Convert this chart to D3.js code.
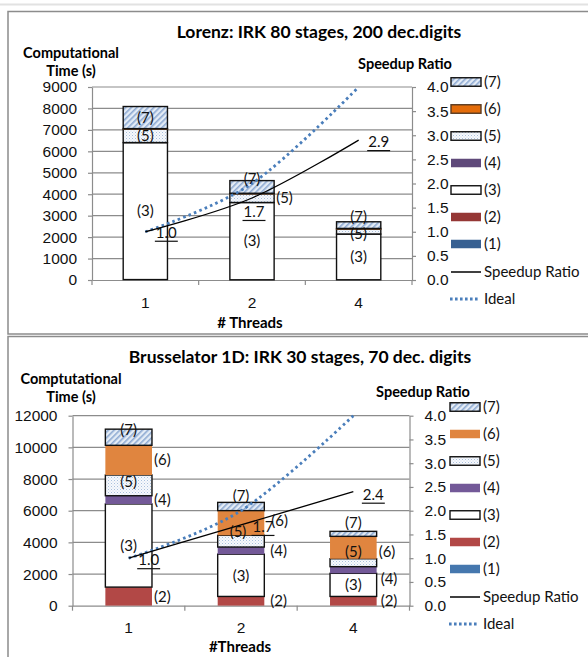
<!DOCTYPE html>
<html>
<head>
<meta charset="utf-8">
<script src="https://cdn.jsdelivr.net/npm/d3@7"></script>
<style>
  body { margin: 0; background: #fff; }
  svg { display: block; font-family: Lato, "Open Sans", sans-serif; }
</style>
</head>
<body>
<svg id="chart" width="588" height="657"></svg>
<script>
// categories
var threads = ["1", "2", "4"];
var segments = ["(1)", "(2)", "(3)", "(4)", "(5)", "(6)", "(7)"];

// Lorenz: computational time (s) per part
var lorenz1 = [10, 5, 5];
var lorenz2 = [10, 5, 5];
var lorenz3 = [6380, 3600, 2130];
var lorenz4 = [10, 5, 5];
var lorenz5 = [620, 400, 220];
var lorenz6 = [30, 30, 40];
var lorenz7 = [1030, 590, 310];
var lorenzSpeedup = [1.0, 1.7, 2.9];

// Brusselator 1D: computational time (s) per part
var bruss1 = [5, 5, 5];
var bruss2 = [1170, 580, 580];
var bruss3 = [5250, 2670, 1460];
var bruss4 = [520, 450, 420];
var bruss5 = [1310, 740, 500];
var bruss6 = [1875, 1560, 1415];
var bruss7 = [1020, 520, 315];
var brussSpeedup = [1.0, 1.7, 2.4];

var idealSpeedup = [1, 2, 4];

// tick labels
var lorenzTimeTicks = [0, 1000, 2000, 3000, 4000, 5000, 6000, 7000, 8000, 9000];
var brussTimeTicks = [0, 2000, 4000, 6000, 8000, 10000, 12000];
var speedupTicks = [0, 0.5, 1, 1.5, 2, 2.5, 3, 3.5, 4];

var FS = 15; // label font size

var svg = d3.select("#chart");
var defs = svg.append("defs");

// patterns for (7) and (5)
var hatch = defs.append("pattern").attr("id", "hatch")
    .attr("patternUnits", "userSpaceOnUse").attr("width", 4).attr("height", 4)
    .attr("patternTransform", "rotate(45)");
hatch.append("rect").attr("width", 4).attr("height", 4).attr("fill", "#e4ecf6");
hatch.append("rect").attr("width", 1.6).attr("height", 4).attr("fill", "#8eaad2");

var dots = defs.append("pattern").attr("id", "dots")
    .attr("patternUnits", "userSpaceOnUse").attr("width", 3).attr("height", 3);
dots.append("rect").attr("width", 3).attr("height", 3).attr("fill", "#f7f9fc");
dots.append("rect").attr("width", 1).attr("height", 1).attr("fill", "#a9c0de");
dots.append("rect").attr("x", 1.5).attr("y", 1.5).attr("width", 1).attr("height", 1).attr("fill", "#c9d8ec");

// top light strip and panel frames
svg.append("line").attr("x1", 0).attr("x2", 588).attr("y1", 4.5).attr("y2", 4.5)
    .attr("stroke", "#e2e2e2").attr("stroke-width", 2);
svg.append("rect").attr("x", 8).attr("y", 11.5).attr("width", 600).attr("height", 322.5)
    .attr("fill", "none").attr("stroke", "#8c8c8c").attr("stroke-width", 1.5);
svg.append("rect").attr("x", 8).attr("y", 336.5).attr("width", 600).attr("height", 330)
    .attr("fill", "none").attr("stroke", "#8c8c8c").attr("stroke-width", 1.5);

function drawChart(cfg) {
    var g = svg.append("g");
    var rows = threads.map(function (t, i) {
        var r = { thread: t };
        segments.forEach(function (s, k) { r[s] = cfg.parts[k][i]; });
        return r;
    });
    var stacked = d3.stack().keys(segments)(rows);

    var x = d3.scaleBand().domain(threads).range([cfg.left, cfg.right]);
    var y = d3.scaleLinear().domain([0, cfg.maxTime]).range([cfg.y0, cfg.yTop]);
    var y2 = d3.scaleLinear().domain([0, 4]).range([cfg.y0, cfg.yTop]);
    var bw = x.bandwidth() * 0.415;
    var cx = function (t) { return x(t) + x.bandwidth() / 2; };

    // gridlines
    g.append("g").selectAll("line").data(cfg.timeTicks.slice(1)).enter().append("line")
        .attr("x1", cfg.left).attr("x2", cfg.right)
        .attr("y1", function (d) { return y(d); }).attr("y2", function (d) { return y(d); })
        .attr("stroke", "#8c8c8c").attr("stroke-width", 1.2);

    // left axis
    var la = g.append("g").attr("transform", "translate(" + cfg.left + ",0)")
        .call(d3.axisLeft(y).tickValues(cfg.timeTicks).tickSize(4).tickSizeOuter(0).tickPadding(11)
            .tickFormat(d3.format("d")));
    // right axis
    var ra = g.append("g").attr("transform", "translate(" + cfg.right + ",0)")
        .call(d3.axisRight(y2).tickValues(speedupTicks).tickSize(4).tickSizeOuter(0).tickPadding(11)
            .tickFormat(d3.format(".1f")));
    // x axis
    var xa = g.append("g").attr("transform", "translate(0," + cfg.y0 + ")")
        .call(d3.axisBottom(x).tickSize(0).tickSizeOuter(0).tickPadding(cfg.xPad));
    xa.append("g").selectAll("line").data(threads.map(function (t) { return x(t); }).concat([cfg.right]))
        .enter().append("line")
        .attr("x1", function (d) { return d; }).attr("x2", function (d) { return d; })
        .attr("y1", 0).attr("y2", 5).attr("stroke", "#8c8c8c").attr("stroke-width", 1.2);

    [la, ra, xa].forEach(function (a) {
        a.selectAll("path.domain").attr("stroke", "#8c8c8c").attr("stroke-width", 1.2);
        a.selectAll(".tick line").attr("stroke", "#8c8c8c").attr("stroke-width", 1.2);
        a.selectAll("text").attr("font-size", 15.5).attr("fill", "#111").attr("font-family", null);
    });

    // bars
    stacked.forEach(function (layer, k) {
        var st = cfg.styles[k];
        g.append("g").selectAll("rect").data(layer).enter().append("rect")
            .attr("x", function (d) { return cx(d.data.thread) - bw / 2; })
            .attr("width", bw)
            .attr("y", function (d) { return y(d[1]); })
            .attr("height", function (d) { return Math.max(0, y(d[0]) - y(d[1])); })
            .attr("fill", st.fill)
            .attr("stroke", st.stroke || "none")
            .attr("stroke-width", st.stroke ? 1.4 : 0);
    });

    // lines
    var line = d3.line()
        .x(function (d, i) { return cx(threads[i]); })
        .y(function (d) { return y2(d); })
        .curve(d3.curveCatmullRom.alpha(0));
    g.append("path").attr("d", line(idealSpeedup)).attr("fill", "none")
        .attr("stroke", "#4a7ebb").attr("stroke-width", 2.8).attr("stroke-dasharray", "2.6,3.2");
    g.append("path").attr("d", line(cfg.speedup)).attr("fill", "none")
        .attr("stroke", "#000").attr("stroke-width", 1.3);

    // segment labels
    stacked.forEach(function (layer, k) {
        if (cfg.labelSegs.indexOf(k) < 0) return;
        layer.forEach(function (d, i) {
            var n = cfg.nudges[i + "-" + k] || {};
            var right = n.right || cfg.rightSegs.indexOf(k) >= 0;
            var c = cx(d.data.thread);
            var tx = right ? c + bw / 2 + 2 : c;
            var ty = (y(d[0]) + y(d[1])) / 2;
            g.append("text").attr("x", tx + (n.dx || 0)).attr("y", ty + (n.dy || 0))
                .attr("dy", "0.35em").attr("text-anchor", right ? "start" : "middle")
                .attr("font-size", FS).attr("fill", "#111").text(segments[k]);
        });
    });

    // speedup labels, underlined
    cfg.speedup.forEach(function (v, i) {
        var off = cfg.speedOffsets[i];
        var px = cx(threads[i]) + off[0], py = y2(v) + off[1];
        var t = g.append("text").attr("x", px).attr("y", py).attr("dy", "0.35em")
            .attr("text-anchor", "middle").attr("font-size", FS).attr("fill", "#111")
            .text(d3.format(".1f")(v));
        var w = t.node().getComputedTextLength();
        g.append("line").attr("x1", px - w / 2 - 1).attr("x2", px + w / 2 + 1)
            .attr("y1", py + 8.5).attr("y2", py + 8.5).attr("stroke", "#111").attr("stroke-width", 1.2);
    });

    // titles
    g.append("text").attr("x", cfg.titleX).attr("y", cfg.titleY).attr("text-anchor", "middle")
        .attr("font-size", 17.5).attr("font-weight", "bold").text(cfg.title);
    g.append("text").attr("x", 71).attr("y", cfg.ytitleY).attr("text-anchor", "middle")
        .attr("font-size", 14.5).attr("font-weight", "bold").text(cfg.ytitle);
    g.append("text").attr("x", 71).attr("y", cfg.ytitleY + 17.5).attr("text-anchor", "middle")
        .attr("font-size", 14.5).attr("font-weight", "bold").text("Time (s)");
    g.append("text").attr("x", cfg.y2titleX).attr("y", cfg.y2titleY).attr("text-anchor", "middle")
        .attr("font-size", 14.5).attr("font-weight", "bold").text("Speedup Ratio");
    g.append("text").attr("x", cfg.xtitleX).attr("y", cfg.xtitleY).attr("text-anchor", "middle")
        .attr("font-size", 15).attr("font-weight", "bold").text(cfg.xtitle);

    // legend
    var lg = g.append("g");
    var order = d3.range(segments.length).reverse();
    order.forEach(function (k, j) {
        var ry = cfg.legendY + j * 27;
        var st = cfg.styles[k];
        lg.append("rect").attr("x", cfg.legendX).attr("y", ry - 4.25).attr("width", 30).attr("height", 8.5)
            .attr("fill", st.fill).attr("stroke", st.stroke || "none").attr("stroke-width", st.stroke ? 1.4 : 0);
        lg.append("text").attr("x", cfg.legendX + 33).attr("y", ry).attr("dy", "0.35em")
            .attr("font-size", FS).attr("fill", "#111").text(segments[k]);
    });
    var sy = cfg.legendY + 7 * 27 + 1;
    lg.append("line").attr("x1", cfg.legendX).attr("x2", cfg.legendX + 30).attr("y1", sy).attr("y2", sy)
        .attr("stroke", "#000").attr("stroke-width", 1.5);
    lg.append("text").attr("x", cfg.legendX + 33).attr("y", sy).attr("dy", "0.35em")
        .attr("font-size", FS).attr("fill", "#111").text("Speedup Ratio");
    var iy = sy + 27;
    lg.append("line").attr("x1", cfg.legendX - 1).attr("x2", cfg.legendX + 29).attr("y1", iy).attr("y2", iy)
        .attr("stroke", "#4a7ebb").attr("stroke-width", 2.8).attr("stroke-dasharray", "2.6,2.4");
    lg.append("text").attr("x", cfg.legendX + 33).attr("y", iy).attr("dy", "0.35em")
        .attr("font-size", FS).attr("fill", "#111").text("Ideal");
}

drawChart({
    parts: [lorenz1, lorenz2, lorenz3, lorenz4, lorenz5, lorenz6, lorenz7],
    speedup: lorenzSpeedup,
    timeTicks: lorenzTimeTicks, maxTime: 9000,
    left: 92, right: 412, y0: 280, yTop: 87, xPad: 17,
    styles: [
        { fill: "#376092" }, { fill: "#953735" }, { fill: "#fff", stroke: "#111" },
        { fill: "#5f497a" }, { fill: "url(#dots)", stroke: "#111" },
        { fill: "#e46c0a", stroke: "#5a3a20" }, { fill: "url(#hatch)", stroke: "#111" }
    ],
    labelSegs: [2, 4, 6], rightSegs: [],
    nudges: { "1-6": { dy: -8 }, "1-4": { right: true }, "2-6": { dy: -8 }, "2-4": { dy: 2 } },
    speedOffsets: [[21, 1], [2, 14], [20, 2]],
    title: "Lorenz: IRK 80 stages, 200 dec.digits", titleX: 319, titleY: 38,
    ytitle: "Computational", ytitleY: 58,
    y2titleX: 405, y2titleY: 69,
    xtitle: "# Threads", xtitleX: 250, xtitleY: 328,
    legendX: 451, legendY: 82
});

drawChart({
    parts: [bruss1, bruss2, bruss3, bruss4, bruss5, bruss6, bruss7],
    speedup: brussSpeedup,
    timeTicks: brussTimeTicks, maxTime: 12000,
    left: 72.5, right: 409.5, y0: 605.7, yTop: 415.7, xPad: 16,
    styles: [
        { fill: "#4577ae" }, { fill: "#b24846" }, { fill: "#fff", stroke: "#111" },
        { fill: "#735998" }, { fill: "url(#dots)", stroke: "#111" },
        { fill: "#e0853f" }, { fill: "url(#hatch)", stroke: "#111" }
    ],
    labelSegs: [1, 2, 3, 4, 5, 6], rightSegs: [1, 3, 5],
    nudges: {
        "0-6": { dy: -7 }, "0-4": { dy: -4 },
        "1-6": { dy: -11 }, "1-4": { dy: -9, dx: -3 }, "1-5": { dy: -2, dx: 5 }, "1-3": { dx: 4 }, "1-1": { dx: 4 },
        "2-6": { dy: -11 }, "2-4": { dy: -11 }, "2-5": { dy: 4 }, "2-3": { dy: 9, dx: 2 }, "2-1": { dx: 2 }
    },
    speedOffsets: [[20, 2], [22, 2], [20, 3]],
    title: "Brusselator 1D: IRK 30 stages, 70 dec. digits", titleX: 300, titleY: 363,
    ytitle: "Comptutational", ytitleY: 384,
    y2titleX: 423, y2titleY: 397,
    xtitle: "#Threads", xtitleX: 240, xtitleY: 652,
    legendX: 450, legendY: 407
});
</script>
</body>
</html>
